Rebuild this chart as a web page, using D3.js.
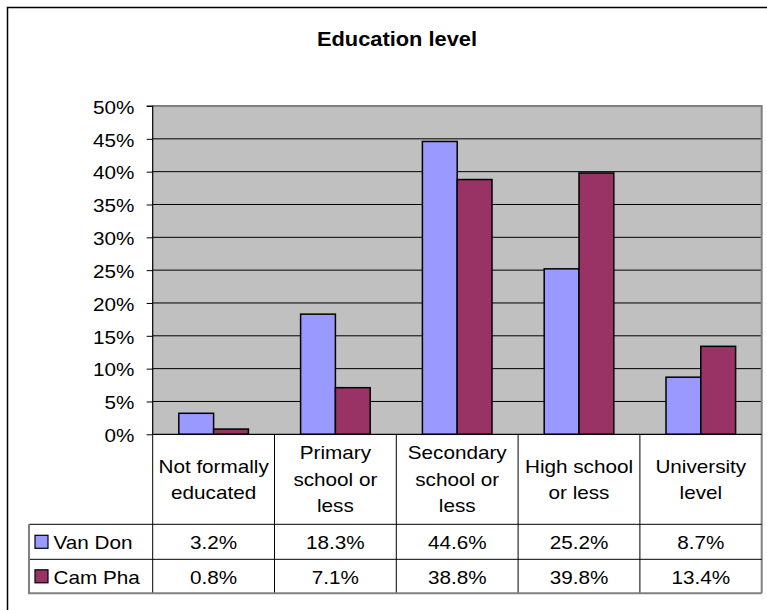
<!DOCTYPE html>
<html>
<head>
<meta charset="utf-8">
<script src="https://cdn.jsdelivr.net/npm/d3@7"></script>
<style>
  html, body { margin: 0; padding: 0; background: #fff; }
  svg { display: block; }
  text { font-family: "Liberation Sans", Arial, sans-serif; fill: #000; }
</style>
</head>
<body>
<svg id="chart" width="767" height="610"></svg>
<script>
// Education level by district (share of respondents, %)
const categories = [
  "Not formally educated",
  "Primary school or less",
  "Secondary school or less",
  "High school or less",
  "University level"
];
const categoryLines = [
  ["Not formally", "educated"],
  ["Primary", "school or", "less"],
  ["Secondary", "school or", "less"],
  ["High school", "or less"],
  ["University", "level"]
];
const seriesNames = ["Van Don", "Cam Pha"];
const vanDon = [3.2, 18.3, 44.6, 25.2, 8.7];
const camPha = [0.8, 7.1, 38.8, 39.8, 13.4];
const yTicks = [0, 5, 10, 15, 20, 25, 30, 35, 40, 45, 50];
const seriesColors = ["#9999FF", "#993366"];

const seriesValues = [vanDon, camPha];
const rows = categories.map((c, i) => ({
  category: c,
  values: seriesNames.map((s, j) => ({ series: s, value: seriesValues[j][i] }))
}));

// layout
const plot = { left: 152.7, right: 761.7, top: 106, bottom: 434.3 };
const table = { keyLeft: 29, headerBottom: 524.3, rowBottoms: [559.3, 593.3] };
const stretch = 1.15;         // horizontal text width factor
const fontSize = 18;

const svg = d3.select("#chart");

// outer chart frame
svg.append("rect")
  .attr("x", 7.5).attr("y", 7.5).attr("width", 900).attr("height", 900)
  .attr("fill", "#fff").attr("stroke", "#000").attr("stroke-width", 1.5);

function label(g, x, y, str, anchor, size, weight, sx) {
  return g.append("text")
    .attr("transform", `translate(${x},${y}) scale(${sx || stretch},1)`)
    .attr("text-anchor", anchor)
    .style("font-size", (size || fontSize) + "px")
    .style("font-weight", weight || "normal")
    .text(str);
}

// title
label(svg, 397, 46, "Education level", "middle", 19.5, "bold", 1.12);

// scales
const x = d3.scaleBand().domain(categories).range([plot.left, plot.right]).padding(0);
const xSeries = d3.scaleBand().domain(seriesNames).range([0, x.bandwidth()])
  .paddingInner(0).paddingOuter(0.75);
const y = d3.scaleLinear().domain([0, 50]).range([plot.bottom, plot.top]);
const color = d3.scaleOrdinal().domain(seriesNames).range(seriesColors);

// plot background
svg.append("rect")
  .attr("x", plot.left).attr("y", plot.top)
  .attr("width", plot.right - plot.left).attr("height", plot.bottom - plot.top)
  .attr("fill", "#C0C0C0");

// gridlines
svg.append("g").selectAll("line")
  .data(yTicks.filter(d => d > 0 && d < 50))
  .join("line")
  .attr("x1", plot.left).attr("x2", plot.right)
  .attr("y1", d => y(d)).attr("y2", d => y(d))
  .attr("stroke", "#000").attr("stroke-width", 1);

// plot border (top / right)
svg.append("path")
  .attr("d", `M${plot.left},${plot.top}H${plot.right}V${table.rowBottoms[1]}`)
  .attr("fill", "none").attr("stroke", "#808080").attr("stroke-width", 2);

// bars
const groups = svg.append("g").selectAll("g")
  .data(rows).join("g")
  .attr("transform", d => `translate(${x(d.category)},0)`);
groups.selectAll("rect")
  .data(d => d.values).join("rect")
  .attr("x", d => xSeries(d.series))
  .attr("width", xSeries.bandwidth())
  .attr("y", d => y(d.value))
  .attr("height", d => y(0) - y(d.value))
  .attr("fill", d => color(d.series))
  .attr("stroke", "#000").attr("stroke-width", 1.5);

// y axis
const yAxis = svg.append("g")
  .attr("transform", `translate(${plot.left},0)`)
  .call(d3.axisLeft(y).tickValues(yTicks).tickSize(6).tickPadding(10)
    .tickFormat(d => d + "%"));
yAxis.select(".domain").attr("stroke", "#000").attr("stroke-width", 1.2)
  .attr("d", `M-6,${plot.top}H0V${plot.bottom}`);
yAxis.selectAll(".tick line").attr("stroke", "#000");
yAxis.selectAll(".tick text")
  .attr("transform", `scale(${stretch},1)`)
  .attr("dy", "0.4em")
  .style("font-size", fontSize + "px")
  .style("font-family", '"Liberation Sans", Arial, sans-serif')
  .attr("fill", "#000");

// zero line
svg.append("line")
  .attr("x1", plot.left).attr("x2", plot.right)
  .attr("y1", y(0)).attr("y2", y(0))
  .attr("stroke", "#000").attr("stroke-width", 1.2);

// data table
const tbl = svg.append("g");
const rowTops = [table.headerBottom, table.rowBottoms[0]];
const colEdges = categories.map(c => x(c));

// vertical column separators
tbl.selectAll("line.col")
  .data(colEdges).join("line").attr("class", "col")
  .attr("x1", d => d).attr("x2", d => d)
  .attr("y1", y(0)).attr("y2", table.rowBottoms[1])
  .attr("stroke", "#000").attr("stroke-width", 1);

// horizontal row lines
tbl.selectAll("line.row")
  .data([table.headerBottom, table.rowBottoms[0]]).join("line").attr("class", "row")
  .attr("x1", table.keyLeft).attr("x2", plot.right)
  .attr("y1", d => d).attr("y2", d => d)
  .attr("stroke", "#000").attr("stroke-width", 1);
tbl.append("path")
  .attr("d", `M${table.keyLeft},${table.headerBottom}V${table.rowBottoms[1]}H${plot.right}`)
  .attr("fill", "none").attr("stroke", "#808080").attr("stroke-width", 2);

// category headers
const headerMid = (y(0) + table.headerBottom) / 2;
const lineGap = 26.5;
categoryLines.forEach((lines, i) => {
  const cx = x(categories[i]) + x.bandwidth() / 2;
  lines.forEach((ln, k) => {
    const by = headerMid + (k - (lines.length - 1) / 2) * lineGap + 6.5;
    label(tbl, cx, by, ln, "middle");
  });
});

// series rows: legend key, name and values
seriesNames.forEach((s, j) => {
  const top = rowTops[j];
  const bottom = table.rowBottoms[j];
  const mid = (top + bottom) / 2;
  tbl.append("rect")
    .attr("x", 35).attr("y", mid - 6.5)
    .attr("width", 13).attr("height", 13)
    .attr("fill", color(s)).attr("stroke", "#000").attr("stroke-width", 1.2);
  label(tbl, 53.5, mid + 7.5, s, "start");
  seriesValues[j].forEach((v, i) => {
    const cx = x(categories[i]) + x.bandwidth() / 2;
    label(tbl, cx, mid + 7.5, v.toFixed(1) + "%", "middle");
  });
});
</script>
</body>
</html>
